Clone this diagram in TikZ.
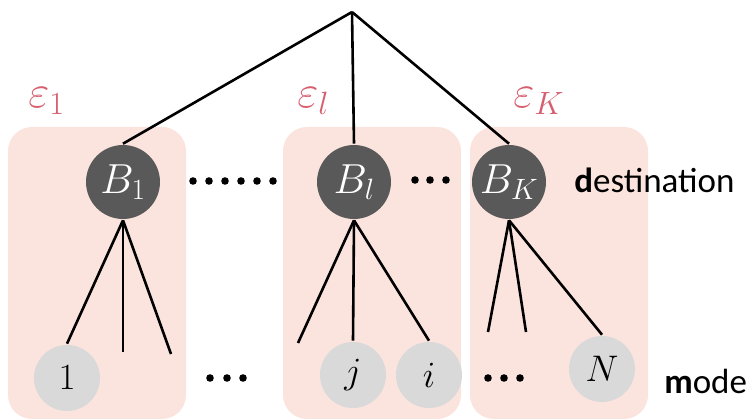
\RequirePackage{fix-cm}
\documentclass[tikz,border=0pt]{standalone}
\usepackage[no-math]{fontspec}
\setmainfont{Carlito}

\definecolor{boxpink}{RGB}{251,228,222}
\definecolor{destgray}{RGB}{89,89,89}
\definecolor{modegray}{RGB}{217,217,217}
\definecolor{epsred}{RGB}{214,94,110}

\begin{document}
\begin{tikzpicture}[x=1pt, y=-1pt, line width=2.6pt,
  destnode/.style={circle, fill=destgray, text=white, minimum size=74pt, inner sep=0pt,
                   font=\fontsize{42}{42}\selectfont},
  modenode/.style={circle, fill=modegray, minimum size=66pt, inner sep=0pt,
                   font=\fontsize{37}{37}\selectfont},
  groupbox/.style={fill=boxpink, rounded corners=24pt},
  epslabel/.style={anchor=base west, text=epsred, inner sep=0pt,
                   font=\fontsize{46}{46}\selectfont},
  sidelabel/.style={anchor=base west, inner sep=0pt, font=\fontsize{35}{35}\selectfont}]

\useasboundingbox (0,0) rectangle (749,419);

% --- Shaded groups ---
\fill[groupbox] (8,127) rectangle (186,419);
\fill[groupbox] (283,127) rectangle (461,419);
\fill[groupbox] (470,127) rectangle (648,419);

% --- Group labels ---
\node[epslabel] (eps1) at (27,108) {$\varepsilon_1$};
\node[epslabel] (epsl) at (296,108) {$\varepsilon_l$};
\node[epslabel] (epsK) at (512,108) {$\varepsilon_K$};

% --- Destination nodes ---
\coordinate (root) at (352,12);
\node[destnode] (B1) at (123,182) {$B_1$};
\node[destnode] (Bl) at (354,182) {$B_l$};
\node[destnode] (BK) at (509,182) {$B_K$};

\draw (root) -- (B1.north);
\draw (root) -- (Bl.north);
\draw (root) -- (BK.north);

% --- Mode nodes ---
\node[modenode] (m1) at (67,378) {$1$};
\node[modenode] (mj) at (353,375) {$j$};
\node[modenode] (mi) at (429,375) {$i$};
\node[modenode] (mN) at (602,369) {$N$};

% --- Free ends of the branches ---
\coordinate (e1a) at (123,352);
\coordinate (e1b) at (171,354);
\coordinate (ela) at (298,343);
\coordinate (eKa) at (488,332);
\coordinate (eKb) at (526,332);

\draw (B1.south) -- (m1.north);
\draw (B1.south) -- (e1a);
\draw (B1.south) -- (e1b);
\draw (Bl.south) -- (ela);
\draw (Bl.south) -- (mj.north);
\draw (Bl.south) -- (mi.north);
\draw (BK.south) -- (eKa);
\draw (BK.south) -- (eKb);
\draw (BK.south) -- (mN.north);

% --- Ellipsis dots ---
\foreach \x in {0,...,5}
  \fill (193+16*\x,181) circle (3.8pt);
\foreach \x in {415,430,446}
  \fill (\x,180) circle (3.8pt);
\foreach \x in {210,227,243}
  \fill (\x,378) circle (3.8pt);
\foreach \x in {488,504,520}
  \fill (\x,378) circle (3.8pt);

% --- Level names ---
\node[sidelabel] (dest) at (573,193) {\textbf{d}estination};
\node[sidelabel] (mode) at (663,393) {\textbf{m}ode};

\end{tikzpicture}
\end{document}
